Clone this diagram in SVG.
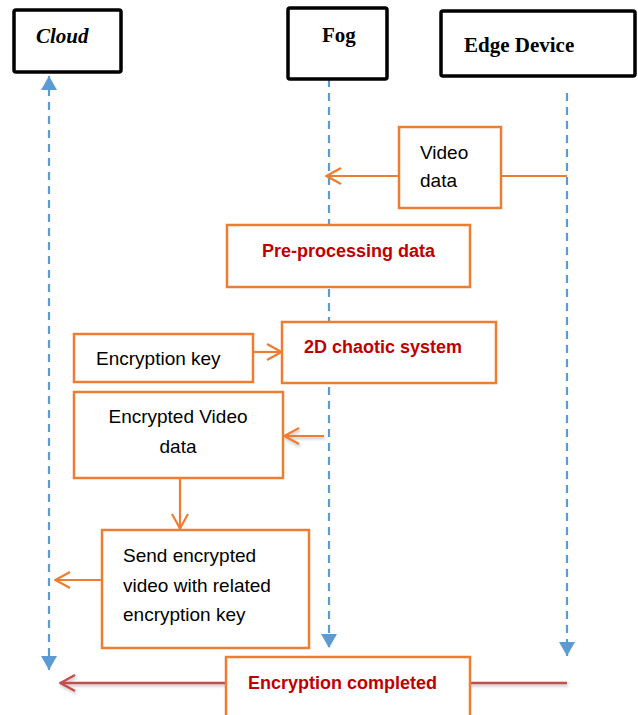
<svg xmlns="http://www.w3.org/2000/svg" width="638" height="715" viewBox="0 0 638 715">
  <style>
    .hdr rect { fill: #ffffff; stroke: #000000; stroke-width: 3.5; }
    .hdr text { font-family: "Liberation Serif", serif; font-weight: bold; font-size: 21px; fill: #000000; }
    .box rect { fill: #ffffff; stroke: #ED7D31; stroke-width: 2.5; }
    .box text { font-family: "Liberation Sans", Arial, sans-serif; font-size: 19px; fill: #000000; }
    .box text.red { font-size: 18px; font-weight: bold; fill: #C00000; }
    .life { stroke: #5B9BD5; stroke-width: 2.2; stroke-dasharray: 8 6; fill: none; }
    .oc { stroke: #ED7D31; stroke-width: 2.2; fill: none; }
    .rc { stroke: #C0504D; stroke-width: 2.5; fill: none; }
  </style>
  <defs>
    <marker id="blueArrow" viewBox="0 0 14 16" refX="14" refY="8" markerWidth="14" markerHeight="16" orient="auto-start-reverse" markerUnits="userSpaceOnUse">
      <path d="M0,0 L14,8 L0,16 Z" fill="#5B9BD5"/>
    </marker>
    <marker id="orangeArrow" viewBox="0 0 18 20" refX="17" refY="10" markerWidth="18" markerHeight="20" orient="auto" markerUnits="userSpaceOnUse">
      <path d="M2,2 L16.5,10 L2,18" fill="none" stroke="#ED7D31" stroke-width="2.2"/>
    </marker>
    <marker id="redArrow" viewBox="0 0 18 20" refX="17" refY="10" markerWidth="18" markerHeight="20" orient="auto" markerUnits="userSpaceOnUse">
      <path d="M2,2 L16.5,10 L2,18" fill="none" stroke="#C0504D" stroke-width="2.5"/>
    </marker>
    <filter id="shadow" filterUnits="userSpaceOnUse" x="0" y="0" width="638" height="715">
      <feDropShadow dx="1" dy="2" stdDeviation="1.5" flood-color="#000000" flood-opacity="0.25"/>
    </filter>
  </defs>

  <g id="lifelines">
    <path class="life" d="M49,670 L49,76" marker-start="url(#blueArrow)" marker-end="url(#blueArrow)"/>
    <path class="life" d="M329,79 L329,648" marker-end="url(#blueArrow)"/>
    <path class="life" d="M567,93 L567,656" marker-end="url(#blueArrow)"/>
  </g>

  <g id="connectors">
    <path class="oc" d="M567,176 L501,176"/>
    <path class="oc" d="M399,176 L326,176" marker-end="url(#orangeArrow)"/>
    <path class="oc" d="M253,352 L282,352" marker-end="url(#orangeArrow)"/>
    <path class="oc" d="M324,436 L284,436" marker-end="url(#orangeArrow)" filter="url(#shadow)"/>
    <path class="oc" d="M180,478 L180,529" marker-end="url(#orangeArrow)"/>
    <path class="oc" d="M102,580 L55,580" marker-end="url(#orangeArrow)"/>
    <path class="rc" d="M567,683 L60,683" marker-end="url(#redArrow)" filter="url(#shadow)"/>
  </g>

  <g id="cloud" class="hdr">
    <rect x="14" y="10" width="107" height="62" rx="2"/>
    <text x="36" y="43" font-style="italic">Cloud</text>
  </g>
  <g id="fog" class="hdr">
    <rect x="288" y="8" width="99" height="71" rx="2"/>
    <text x="322" y="42">Fog</text>
  </g>
  <g id="edge-device" class="hdr">
    <rect x="441" y="11" width="194" height="65" rx="2"/>
    <text x="464" y="52">Edge Device</text>
  </g>

  <g id="video-data" class="box">
    <rect x="399" y="127" width="102" height="81"/>
    <text x="420" y="159">Video</text>
    <text x="420" y="187">data</text>
  </g>
  <g id="pre-processing" class="box">
    <rect x="227" y="225" width="243" height="62"/>
    <text class="red" x="262" y="257">Pre-processing data</text>
  </g>
  <g id="encryption-key" class="box">
    <rect x="74" y="334" width="179" height="48"/>
    <text x="96" y="365">Encryption key</text>
  </g>
  <g id="chaotic-system" class="box">
    <rect x="282" y="322" width="214" height="61"/>
    <text class="red" x="304" y="353">2D chaotic system</text>
  </g>
  <g id="encrypted-video" class="box">
    <rect x="74" y="392" width="209" height="86"/>
    <text x="178" y="423" text-anchor="middle">Encrypted Video</text>
    <text x="178" y="453" text-anchor="middle">data</text>
  </g>
  <g id="send-encrypted" class="box">
    <rect x="102" y="530" width="207" height="118"/>
    <text x="123" y="562">Send encrypted</text>
    <text x="123" y="592">video with related</text>
    <text x="123" y="621">encryption key</text>
  </g>
  <g id="encryption-completed" class="box">
    <rect x="226" y="657" width="244" height="70"/>
    <text class="red" x="248" y="689">Encryption completed</text>
  </g>
</svg>
